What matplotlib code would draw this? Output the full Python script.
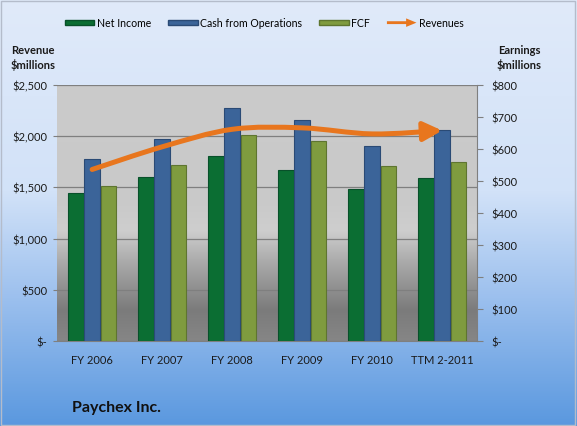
import numpy as np
import matplotlib
matplotlib.use("Agg")
import matplotlib.pyplot as plt
from matplotlib.colors import LinearSegmentedColormap
from matplotlib.path import Path
from matplotlib.patches import FancyArrowPatch, FancyArrow, Patch
from matplotlib.legend_handler import HandlerPatch

categories = ["FY 2006", "FY 2007", "FY 2008", "FY 2009", "FY 2010", "TTM 2-2011"]
net_income = [462, 513, 577, 533, 476, 510]
cash_ops = [569, 632, 727, 689, 610, 660]
fcf = [484, 551, 644, 624, 548, 560]
revenues = [1674, 1895, 2066, 2080, 2021, 2054]

left_ticks = [0, 500, 1000, 1500, 2000, 2500]
left_labels = ["$-", "$500", "$1,000", "$1,500", "$2,000", "$2,500"]
right_ticks = [0, 100, 200, 300, 400, 500, 600, 700, 800]
right_labels = ["$-", "$100", "$200", "$300", "$400", "$500", "$600", "$700", "$800"]

plt.rcParams['font.family'] = ['Lato', 'DejaVu Sans']

C_NI = '#0b6e33'
C_CFO = '#3b6499'
C_FCF = '#7f9b3f'
C_REV = '#e8761e'

fig = plt.figure(figsize=(5.77, 4.27), dpi=100)

# figure background gradient
bg = fig.add_axes([0, 0, 1, 1], zorder=-10)
bg_cmap = LinearSegmentedColormap.from_list(
    'bgc', [(0, '#5a98df'), (0.3, '#9cc0ee'), (0.55, '#d2e2f8'), (1, '#e0eafa')])
bg.imshow(np.linspace(0, 1, 256).reshape(-1, 1), aspect='auto', cmap=bg_cmap,
          origin='lower', extent=[0, 1, 0, 1])
bg.set_xlim(0, 1)
bg.set_ylim(0, 1)
bg.axis('off')
bg.add_patch(plt.Rectangle((0.002, 0.003), 0.995, 0.993, fill=False,
                           edgecolor='#b4bccb', linewidth=1.0))

ax = fig.add_axes([0.099, 0.199, 0.728, 0.600])
ax2 = ax.twinx()
ax.set_zorder(1)
ax2.set_zorder(2)
ax.patch.set_visible(False)
ax2.patch.set_visible(False)

# plot area gradient
pa_cmap = LinearSegmentedColormap.from_list(
    'pac', [(0, '#868686'), (0.12, '#7b7b7b'), (0.3, '#a8a8a8'),
            (0.43, '#cecece'), (0.55, '#c9c9c9'), (1, '#cbcbcb')])
ax.imshow(np.linspace(0, 1, 256).reshape(-1, 1), aspect='auto', cmap=pa_cmap,
          origin='lower', extent=[-0.5, 5.5, 0, 2500], zorder=0)

x = np.arange(len(categories))
w = 0.22
off = 0.23
ax2.bar(x - off, net_income, w, color=C_NI, edgecolor='#08502a', linewidth=0.8, zorder=3)
ax2.bar(x, cash_ops, w, color=C_CFO, edgecolor='#2a4a75', linewidth=0.8, zorder=3)
ax2.bar(x + off, fcf, w, color=C_FCF, edgecolor='#5e7530', linewidth=0.8, zorder=3)

ax.set_xlim(-0.5, 5.5)
ax.set_ylim(0, 2500)
ax2.set_ylim(0, 800)
ax.set_yticks(left_ticks)
ax.set_yticklabels(left_labels)
ax2.set_yticks(right_ticks)
ax2.set_yticklabels(right_labels)
ax.set_xticks(x)
ax.set_xticklabels(categories)
ax.grid(axis='y', color='#7f7f7f', linewidth=0.9, zorder=1)
ax.set_axisbelow(True)

for a in (ax, ax2):
    for s in a.spines.values():
        s.set_visible(False)
ax.spines['bottom'].set_visible(True)
ax.spines['bottom'].set_color('#7f7f7f')
ax2.spines['right'].set_visible(True)
ax2.spines['right'].set_color('#7f7f7f')
ax.tick_params(axis='y', length=3, color='#7f7f7f', labelsize=8, pad=4)
ax.tick_params(axis='x', length=0, labelsize=8, pad=9)
ax2.tick_params(axis='y', length=4, color='#7f7f7f', labelsize=8, pad=6)
for lbl in ax.get_yticklabels() + ax2.get_yticklabels() + ax.get_xticklabels():
    lbl.set_color('#1a1a1a')

# smoothed revenue line (Bezier through the data points), arrow at the end
rev_y = np.array(revenues, dtype=float) * 800 / 2500
px = x.astype(float)
verts = [(px[0], rev_y[0])]
codes = [Path.MOVETO]
n = len(px)
for i in range(n - 1):
    p0 = np.array([px[max(i - 1, 0)], rev_y[max(i - 1, 0)]])
    p1 = np.array([px[i], rev_y[i]])
    p2 = np.array([px[i + 1], rev_y[i + 1]])
    p3 = np.array([px[min(i + 2, n - 1)], rev_y[min(i + 2, n - 1)]])
    c1 = p1 + (p2 - p0) / 6
    c2 = p2 - (p3 - p1) / 6
    verts += [tuple(c1), tuple(c2), tuple(p2)]
    codes += [Path.CURVE4] * 3
rev_path = Path(verts, codes)
arrow = FancyArrowPatch(path=rev_path, arrowstyle='-|>,head_length=7,head_width=3.6',
                        color=C_REV, linewidth=3.6, capstyle='round',
                        transform=ax2.transData, zorder=5, mutation_scale=1.6)
ax2.add_patch(arrow)


def make_arrow(legend, orig_handle, xdescent, ydescent, width, height, fontsize):
    return FancyArrow(-xdescent, height / 2 - ydescent, width, 0, width=height * 0.5,
                      head_width=height * 1.5, head_length=width * 0.35,
                      length_includes_head=True, color=C_REV)


handles = [Patch(facecolor=C_NI, edgecolor='#08502a'),
           Patch(facecolor=C_CFO, edgecolor='#2a4a75'),
           Patch(facecolor=C_FCF, edgecolor='#5e7530'),
           Patch(facecolor=C_REV)]
labels = ["Net Income", "Cash from Operations", "FCF", "Revenues"]
fig.legend(handles, labels, loc='center', bbox_to_anchor=(0.458, 0.944), ncol=4,
           frameon=False, fontsize=7.6, handlelength=2.8, handleheight=0.45,
           handletextpad=0.25, columnspacing=1.6,
           handler_map={handles[3]: HandlerPatch(patch_func=make_arrow)})

fig.text(0.019, 0.864, "Revenue\n$millions", fontsize=8, fontweight='bold',
         ha='left', va='center', linespacing=1.3, color='#1a1a1a')
fig.text(0.9, 0.864, "Earnings\n$millions", fontsize=8, fontweight='bold',
         ha='center', va='center', linespacing=1.3, color='#1a1a1a')
fig.text(0.125, 0.045, "Paychex Inc.", fontsize=11.5, fontweight='bold',
         ha='left', va='center', color='#111111')

fig.savefig('out.png', dpi=100)
